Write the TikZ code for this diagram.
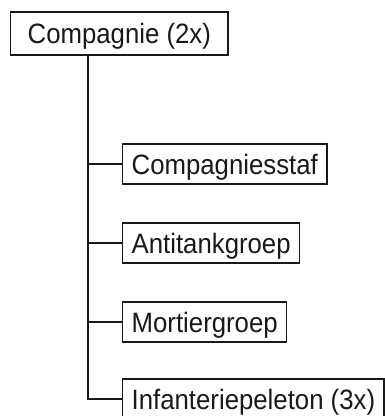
\documentclass[tikz,border=0pt]{standalone}
\usepackage{fontspec}
\setmainfont{Liberation Sans}
\usetikzlibrary{calc}
\newcommand{\narrowtext}[1]{\scalebox{0.92}[1]{#1}}
\begin{document}
\begin{tikzpicture}[x=1pt,y=-1pt,
  box/.style={draw=black!90, line width=1.4pt, inner xsep=9pt, inner ysep=0pt,
    minimum height=40pt, text height=20pt, text depth=0pt,
    font=\fontsize{28}{32}\selectfont, text=black!90, anchor=west},
  link/.style={draw=black!90, line width=1.4pt}]
\useasboundingbox (0,0) rectangle (385,416);
\node[box, inner xsep=17pt, minimum height=43pt] (top) at (10,33.5) {\narrowtext{Compagnie (2x)}};
\node[box] (a) at (122,164) {\narrowtext{Compagniesstaf}};
\node[box] (b) at (122,243) {\narrowtext{Antitankgroep}};
\node[box] (c) at (122,322) {\narrowtext{Mortiergroep}};
\node[box] (d) at (122,399) {\narrowtext{Infanteriepeleton (3x)}};
\coordinate (t) at ($(top.south west)+(78,0)$);
\draw[link] (t) |- (d.west);
\draw[link] (a.west) -- (a.west -| t);
\draw[link] (b.west) -- (b.west -| t);
\draw[link] (c.west) -- (c.west -| t);
\end{tikzpicture}
\end{document}
